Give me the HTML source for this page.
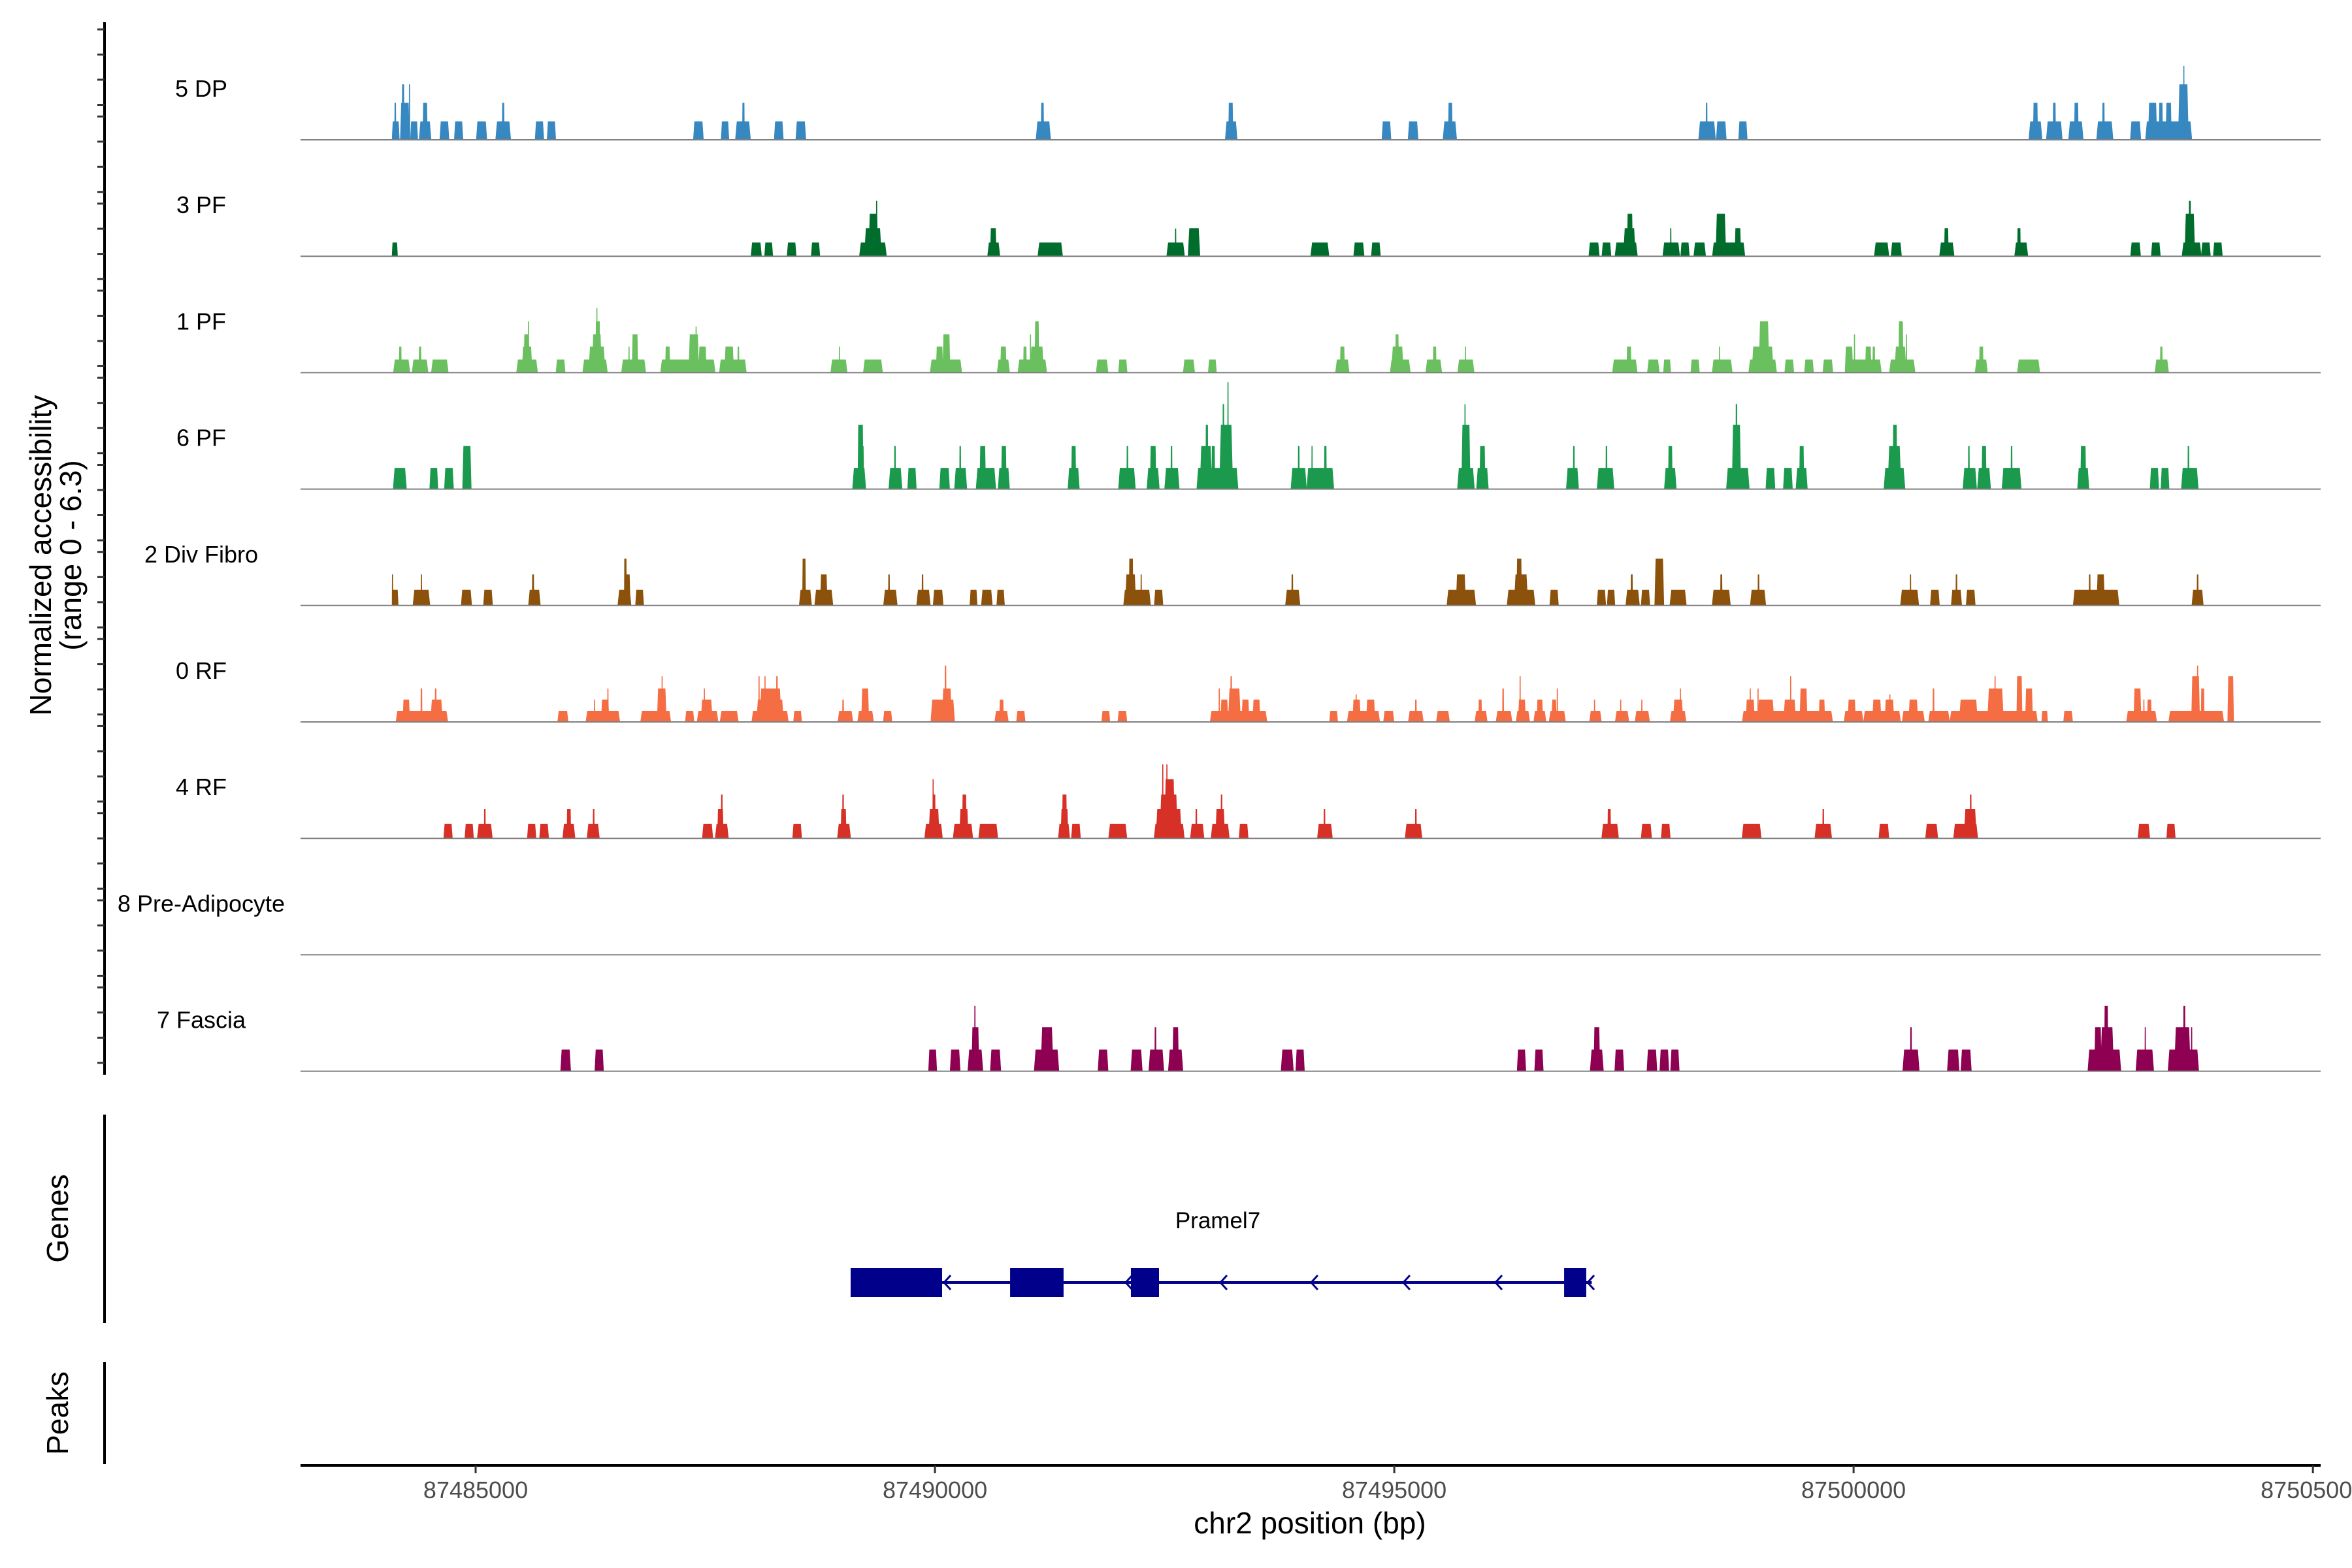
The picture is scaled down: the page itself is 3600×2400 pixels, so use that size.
<!DOCTYPE html>
<html><head><meta charset="utf-8"><style>
html,body{margin:0;padding:0;background:#fff;}
svg{display:block;font-family:"Liberation Sans",Arial,sans-serif;}
</style></head><body>
<svg id="chart" width="3600" height="2400" viewBox="0 0 3600 2400" xmlns="http://www.w3.org/2000/svg">
<rect x="0" y="0" width="3600" height="2400" fill="#fff"/>
<g id="tracks"></g>
<g id="yaxis"></g>
<g id="gene"></g>
<g id="xaxis"></g>
<text transform="translate(78,850) rotate(-90)" text-anchor="middle" font-size="46">Normalized accessibility</text>
<text transform="translate(124,850) rotate(-90)" text-anchor="middle" font-size="46">(range 0 - 6.3)</text>
<text transform="translate(104,1865) rotate(-90)" text-anchor="middle" font-size="46">Genes</text>
<text transform="translate(104,2163) rotate(-90)" text-anchor="middle" font-size="46">Peaks</text>
<text x="2005" y="2347" text-anchor="middle" font-size="46">chr2 position (bp)</text>
</svg>
<script>
const REGION_START = 87483000;
const Y_MAX = 6.3;
const trackNames = ["5 DP","3 PF","1 PF","6 PF","2 Div Fibro","0 RF","4 RF","8 Pre-Adipocyte","7 Fascia"];
const trackColors = ["#3787c0","#006d2c","#6abf5f","#1b9a4e","#8c510a","#f46d43","#d73027","#888888","#8e0152"];
const xTicks = [87485000,87490000,87495000,87500000,87505000];
// peaks: [center offset bp from REGION_START, width bp, accessibility]
const peaks5DP = [[1130,85,1],[1125,20,2],[1230,105,2],[1210,28,3],[1280,15,3],[1330,85,1],[1450,135,1],[1450,55,2],[1660,105,1],[1815,100,1],[2065,120,1],[2300,170,1],[2300,28,2],[2695,100,1],[2825,100,1],[4425,115,1],[4715,90,1],[4910,170,1],[4915,28,2],[5300,105,1],[5540,115,1],[8180,165,1],[8170,35,2],[10225,135,1],[10220,55,2],[11915,105,1],[12205,115,1],[12605,155,1],[12610,50,2],[15405,190,1],[15400,20,2],[15560,115,1],[15795,100,1],[18980,150,1],[18980,55,2],[19185,180,1],[19185,35,2],[19420,165,1],[19425,50,2],[19735,185,1],[19720,28,2],[20070,120,1],[20430,510,1],[20255,100,2],[20345,45,2],[20430,65,2],[20590,115,3],[20595,15,4]];
const peaks3PF = [[1120,65,0.74],[5055,120,0.74],[5190,95,0.74],[5440,105,0.74],[5700,100,0.74],[6325,300,0.74],[6325,190,1.52],[6330,105,2.3],[6365,15,3.0],[7640,140,0.74],[7635,70,1.52],[8255,275,0.74],[9620,200,0.74],[9620,15,1.5],[9820,135,1.52],[11190,205,0.74],[11615,120,0.74],[11800,105,0.74],[14175,120,0.74],[14310,105,0.74],[14525,250,0.74],[14560,135,1.52],[14565,65,2.3],[15015,190,0.74],[15010,15,1.52],[15165,100,0.74],[15325,135,0.74],[15640,360,0.74],[15555,115,2.3],[15740,70,1.52],[17305,165,0.74],[17465,120,0.74],[18015,165,0.74],[18010,50,1.52],[18825,150,0.74],[18800,40,1.52],[20070,115,0.74],[20290,105,0.74],[20680,215,0.74],[20660,115,2.3],[20660,25,3.0],[20835,105,0.74],[20965,105,0.74]];
const peaks1PF = [[1195,185,0.71],[1180,30,1.41],[1395,180,0.71],[1395,30,1.41],[1610,190,0.71],[2560,235,0.71],[2560,115,1.41],[2555,65,2.08],[2575,15,2.78],[2925,105,0.71],[3300,275,0.71],[3320,185,1.41],[3320,105,2.08],[3330,55,2.78],[3320,15,3.49],[3720,270,0.71],[3735,70,2.08],[3670,15,1.41],[4310,600,0.71],[4090,55,1.41],[4375,115,2.08],[4470,90,1.41],[4400,15,2.5],[4800,300,0.71],[4760,105,1.41],[4860,20,1.41],[5955,185,0.71],[5960,15,1.41],[6325,215,0.71],[7120,350,0.71],[7050,80,1.41],[7125,85,2.08],[7745,140,0.71],[7745,70,1.41],[8060,320,0.71],[7980,40,1.41],[8110,155,1.41],[8110,50,2.78],[8040,15,2.08],[8820,135,0.71],[9045,100,0.71],[9765,130,0.71],[10020,95,0.71],[11435,155,0.71],[11435,55,1.41],[12065,225,0.71],[12035,135,1.41],[12030,40,2.08],[12430,180,0.71],[12440,40,1.41],[12780,185,0.71],[12775,15,1.41],[14510,275,0.71],[14555,55,1.41],[14820,135,0.71],[14970,85,0.71],[15275,100,0.71],[15570,225,0.71],[15540,15,1.41],[16010,310,0.71],[16010,240,1.41],[16025,115,2.78],[15985,15,2.08],[16300,105,0.71],[16515,105,0.71],[16720,115,0.71],[17120,370,0.71],[16950,90,1.41],[17010,15,2.08],[17160,70,1.41],[17220,30,1.41],[17530,285,0.71],[17510,130,1.41],[17515,55,2.78],[17575,15,2.08],[18390,140,0.71],[18390,50,1.41],[18905,250,0.71],[20355,155,0.71],[20350,30,1.41]];
const peaks6PF = [[1175,150,1.15],[1545,95,1.15],[1710,105,1.15],[1905,100,2.33],[6175,150,1.15],[6190,65,3.48],[6200,60,2.33],[6570,150,1.15],[6565,20,2.33],[6750,100,1.15],[7105,115,1.15],[7280,140,1.15],[7275,20,2.33],[7555,220,1.15],[7520,70,2.33],[7750,130,1.15],[7750,60,2.33],[8510,130,1.15],[8510,55,2.33],[9090,190,1.15],[9095,20,2.33],[9375,140,1.15],[9375,70,2.33],[9580,165,1.15],[9575,20,2.33],[10075,455,1.15],[9950,135,2.33],[9960,30,3.48],[10030,40,2.33],[10170,150,3.48],[10140,20,4.6],[10190,15,5.78],[10960,175,1.15],[10960,20,2.33],[11195,300,1.15],[11105,15,2.33],[11250,30,2.33],[12780,190,1.15],[12780,100,3.48],[12770,15,4.6],[12960,135,1.15],[12960,65,2.33],[13940,140,1.15],[13955,20,2.33],[14300,190,1.15],[14310,20,2.33],[15005,135,1.15],[15005,50,2.33],[15740,255,1.15],[15725,100,3.48],[15725,20,4.6],[16095,105,1.15],[16285,105,1.15],[16435,130,1.15],[16435,55,2.33],[17445,235,1.15],[17445,150,2.33],[17450,50,3.48],[18265,155,1.15],[18255,20,2.33],[18420,150,1.15],[18420,55,2.33],[18720,215,1.15],[18720,20,2.33],[19500,130,1.15],[19500,65,2.33],[20275,100,1.15],[20390,95,1.15],[20660,190,1.15],[20645,20,2.33]];
const peaks2DF = [[1125,70,0.85],[1095,10,1.68],[1410,190,0.85],[1410,15,1.68],[1900,120,0.85],[2135,105,0.85],[2640,135,0.85],[2625,25,1.68],[3620,150,0.85],[3650,70,1.68],[3630,30,2.54],[3785,95,0.85],[5590,140,0.85],[5575,40,2.54],[5790,205,0.85],[5790,80,1.68],[6515,155,0.85],[6500,20,1.68],[6875,155,0.85],[6865,20,1.68],[7035,115,0.85],[7420,85,0.85],[7565,125,0.85],[7715,90,0.85],[9200,300,0.85],[9130,120,1.68],[9135,50,2.54],[9245,15,1.68],[9435,100,0.85],[10895,165,0.85],[10890,20,1.68],[12730,320,0.85],[12725,110,1.68],[13380,310,0.85],[13380,155,1.68],[13360,60,2.54],[13740,100,0.85],[14255,100,0.85],[14360,90,0.85],[14595,155,0.85],[14585,25,1.68],[14735,100,0.85],[14885,105,2.54],[15090,185,0.85],[15560,205,0.85],[15560,25,1.68],[15960,175,0.85],[15965,20,1.68],[17610,205,0.85],[17620,15,1.68],[17885,105,0.85],[18120,120,0.85],[18120,20,1.68],[18275,105,0.85],[19640,505,0.85],[19570,20,1.68],[19690,90,1.68],[20745,130,0.85],[20745,20,1.68]];
const peaks0RF = [[1415,570,0.6],[1245,80,1.21],[1410,20,1.81],[1575,135,1.21],[1565,20,1.81],[2950,120,0.6],[3385,375,0.6],[3410,90,1.21],[3440,15,1.81],[3295,15,1.21],[3960,335,0.6],[4026,105,1.81],[4030,15,2.47],[4330,100,0.6],[4525,235,0.6],[4515,130,1.21],[4490,15,1.81],[4760,205,0.6],[5205,405,0.6],[5205,300,1.21],[5210,240,1.81],[5085,15,2.47],[5150,15,2.47],[5280,20,2.47],[5505,95,0.6],[6025,170,0.6],[6000,20,1.21],[6245,180,0.6],[6240,85,1.81],[6485,100,0.6],[7085,265,1.21],[7130,105,1.81],[7115,20,3.05],[7725,155,0.6],[7725,50,1.21],[7935,100,0.6],[8860,95,0.6],[9040,105,0.6],[10305,625,0.6],[10150,85,1.21],[10095,15,1.81],[10260,140,1.81],[10225,20,2.47],[10380,85,1.21],[10500,85,1.21],[11340,95,0.6],[11665,360,0.6],[11590,90,1.21],[11585,15,1.5],[11743,100,1.21],[11940,120,0.6],[12235,170,0.6],[12235,20,1.21],[12530,150,0.6],[12945,140,0.6],[12935,40,1.21],[13195,180,0.6],[13185,20,1.81],[13400,155,0.6],[13390,85,1.21],[13370,15,2.47],[13585,140,0.6],[13585,70,1.21],[13775,185,0.6],[13740,55,1.21],[13775,15,1.81],[14190,135,0.6],[14180,15,1.21],[14480,155,0.6],[14465,15,1.21],[14700,165,0.6],[14695,15,1.21],[15090,180,0.6],[15090,110,1.21],[15115,15,1.81],[16280,990,0.6],[15875,100,1.21],[15875,15,1.81],[16045,185,1.21],[15960,15,1.81],[16305,140,1.21],[16315,15,2.47],[16455,85,1.81],[16655,70,1.21],[17000,215,0.6],[16980,90,1.21],[17310,410,0.6],[17253,100,1.21],[17390,105,1.21],[17395,15,1.5],[17650,250,0.6],[17650,105,1.21],[17930,235,0.6],[17870,20,1.81],[18525,960,0.6],[18250,205,1.21],[18545,180,1.81],[18540,15,2.47],[18805,65,2.47],[18910,85,1.81],[19080,70,0.6],[19335,105,0.6],[20135,335,0.6],[20090,85,1.81],[20220,50,1.21],[20160,15,1.21],[20730,605,0.6],[20723,95,2.47],[20745,15,3.05],[20800,40,1.81],[21105,70,2.47]];
const peaks4RF = [[1700,100,0.79],[1930,100,0.79],[2100,170,0.79],[2100,20,1.6],[2610,100,0.79],[2745,105,0.79],[3015,140,0.79],[3015,50,1.6],[3280,140,0.79],[3285,20,1.6],[4525,120,0.79],[4680,150,0.79],[4665,70,1.6],[4680,20,2.37],[5500,105,0.79],[6010,150,0.79],[6005,65,1.6],[6000,20,2.37],[6985,200,0.79],[6990,120,1.6],[6990,35,2.37],[6980,10,3.2],[7305,220,0.79],[7315,100,1.6],[7320,50,2.37],[7580,215,0.79],[8405,130,0.79],[8410,85,1.6],[8410,55,2.37],[8535,105,0.79],[8990,205,0.79],[9550,335,0.79],[9545,285,1.6],[9545,200,2.37],[9555,115,3.2],[9480,15,4.0],[9525,15,4.0],[9855,155,0.79],[9845,20,1.6],[10105,205,0.79],[10105,105,1.6],[10120,20,2.37],[10360,105,0.79],[11245,170,0.79],[11240,20,1.6],[12210,190,0.79],[12235,20,1.6],[14350,190,0.79],[14340,40,1.6],[14745,120,0.79],[14955,105,0.79],[15890,215,0.79],[16670,190,0.79],[16670,20,1.6],[17330,115,0.79],[17850,140,0.79],[18220,270,0.79],[18270,140,1.6],[18275,20,2.37],[20160,135,0.79],[20455,100,0.79]];
const peaks8PA = [];
const peaks7FA = [[2980,115,1.17],[3345,100,1.17],[6975,95,1.17],[7220,115,1.17],[7440,170,1.17],[7440,85,2.38],[7435,15,3.53],[7660,120,1.17],[8215,275,1.17],[8220,140,2.38],[8830,115,1.17],[9195,130,1.17],[9410,170,1.17],[9400,20,2.38],[9620,165,1.17],[9620,70,2.38],[10835,140,1.17],[10975,100,1.17],[13385,100,1.17],[13575,100,1.17],[14205,150,1.17],[14205,70,2.38],[14450,105,1.17],[14805,115,1.17],[14940,105,1.17],[15055,100,1.17],[17625,185,1.17],[17625,20,2.38],[18085,135,1.17],[18225,120,1.17],[19730,365,1.17],[19660,80,2.38],[19760,150,2.38],[19750,45,3.53],[20170,200,1.17],[20175,10,2.38],[20590,340,1.17],[20580,180,2.38],[20600,25,3.53],[20680,15,2.38]];
const trackPeaks = [peaks5DP,peaks3PF,peaks1PF,peaks6PF,peaks2DF,peaks0RF,peaks4RF,peaks8PA,peaks7FA];
const geneExons = [[87489082,87490078],[87490818,87491400],[87492133,87492439],[87496849,87497090]];
const geneSpan = [87490078,87497150];
const geneArrows = [87490128,87492105,87493136,87494124,87495127,87496130,87497133];

const NS = "http://www.w3.org/2000/svg";
const X0 = 446.8, BP_PER_PX = 7.112, PLOT_L = 460, PLOT_R = 3552;
function xScale(bp){ return X0 + (bp - REGION_START) / BP_PER_PX; }
const BASE0 = 214, TRACK_H = 178.2;
function baseline(i){ return BASE0 + TRACK_H * i; }
function yScale(i, v){ return baseline(i) - v * (TRACK_H / Y_MAX); }
function mk(tag, attrs, parent){ const e = document.createElementNS(NS, tag); for (const k in attrs) e.setAttribute(k, attrs[k]); parent.appendChild(e); return e; }

const gT = document.getElementById('tracks');
trackNames.forEach((name, i) => {
  const g = mk('g', {}, gT);
  
  
  const sorted = trackPeaks[i].slice().sort((a, b) => a[2] - b[2]);
  sorted.forEach(p => {
    const cx = xScale(REGION_START + p[0]);
    const w = Math.max(p[1] / BP_PER_PX, 2);
    const y = yScale(i, p[2]);
    const b = baseline(i);
    const inset = Math.min(w * 0.12, 2.5);
    const poly = mk('polygon', { points: `${cx - w/2},${b} ${cx - w/2 + inset},${y} ${cx + w/2 - inset},${y} ${cx + w/2},${b}`, fill: trackColors[i] }, g);
    
    
  });
  const ln = mk('line', { x1: PLOT_L, x2: PLOT_R, y1: baseline(i), y2: baseline(i), stroke: '#7f7f7f', 'stroke-width': 2 }, g);
  
  
  const t = mk('text', { x: 308, y: baseline(i) - 78 + 12, 'text-anchor': 'middle', 'font-size': 36, fill: '#000' }, g);
  t.textContent = name;
  
  
});

// left axes
const gY = document.getElementById('yaxis');
const ax = mk('line', { x1: 160, x2: 160, y1: 34, y2: 1645, stroke: '#000', 'stroke-width': 4 }, gY);


for (let g = 0; g < 13; g++) for (let k = 0; k < 4; k++) {
  const y = 45 + 133.3 * g + 38.5 * k;
  if (y > 1642) continue;
  const tk = mk('line', { x1: 149, x2: 160, y1: y, y2: y, stroke: '#333', 'stroke-width': 3 }, gY);
  
  
}
const ga = mk('line', { x1: 160, x2: 160, y1: 1706, y2: 2025, stroke: '#000', 'stroke-width': 4 }, gY);


const pa = mk('line', { x1: 160, x2: 160, y1: 2085, y2: 2241, stroke: '#000', 'stroke-width': 4 }, gY);



// gene
const gG = document.getElementById('gene');
const GY = 1963;
const gl = mk('line', { x1: xScale(geneSpan[0]), x2: xScale(geneSpan[1]), y1: GY, y2: GY, stroke: '#00008b', 'stroke-width': 4 }, gG);


geneArrows.forEach(a => {
  const x = xScale(a);
  const ch = mk('polyline', { points: `${x + 6},${GY - 11} ${x - 4},${GY} ${x + 6},${GY + 11}`, fill: 'none', stroke: '#00008b', 'stroke-width': 3 }, gG);
  
  
});
geneExons.forEach(e => {
  const r = mk('rect', { x: xScale(e[0]), y: 1941, width: xScale(e[1]) - xScale(e[0]), height: 44, fill: '#00008b' }, gG);
  
  
});
const gn = mk('text', { x: 1864, y: 1880, 'text-anchor': 'middle', 'font-size': 35 }, gG);
gn.textContent = 'Pramel7';



// x axis
const gX = document.getElementById('xaxis');
const xl = mk('line', { x1: PLOT_L, x2: 3552, y1: 2243, y2: 2243, stroke: '#000', 'stroke-width': 4 }, gX);


xTicks.forEach(v => {
  const x = xScale(v);
  const tk = mk('line', { x1: x, x2: x, y1: 2243, y2: 2255, stroke: '#333', 'stroke-width': 3 }, gX);
  
  
  const t = mk('text', { x: x, y: 2293, 'text-anchor': 'middle', 'font-size': 36, fill: '#4d4d4d' }, gX);
  t.textContent = String(v);
  
  
});
</script>
</body></html>
